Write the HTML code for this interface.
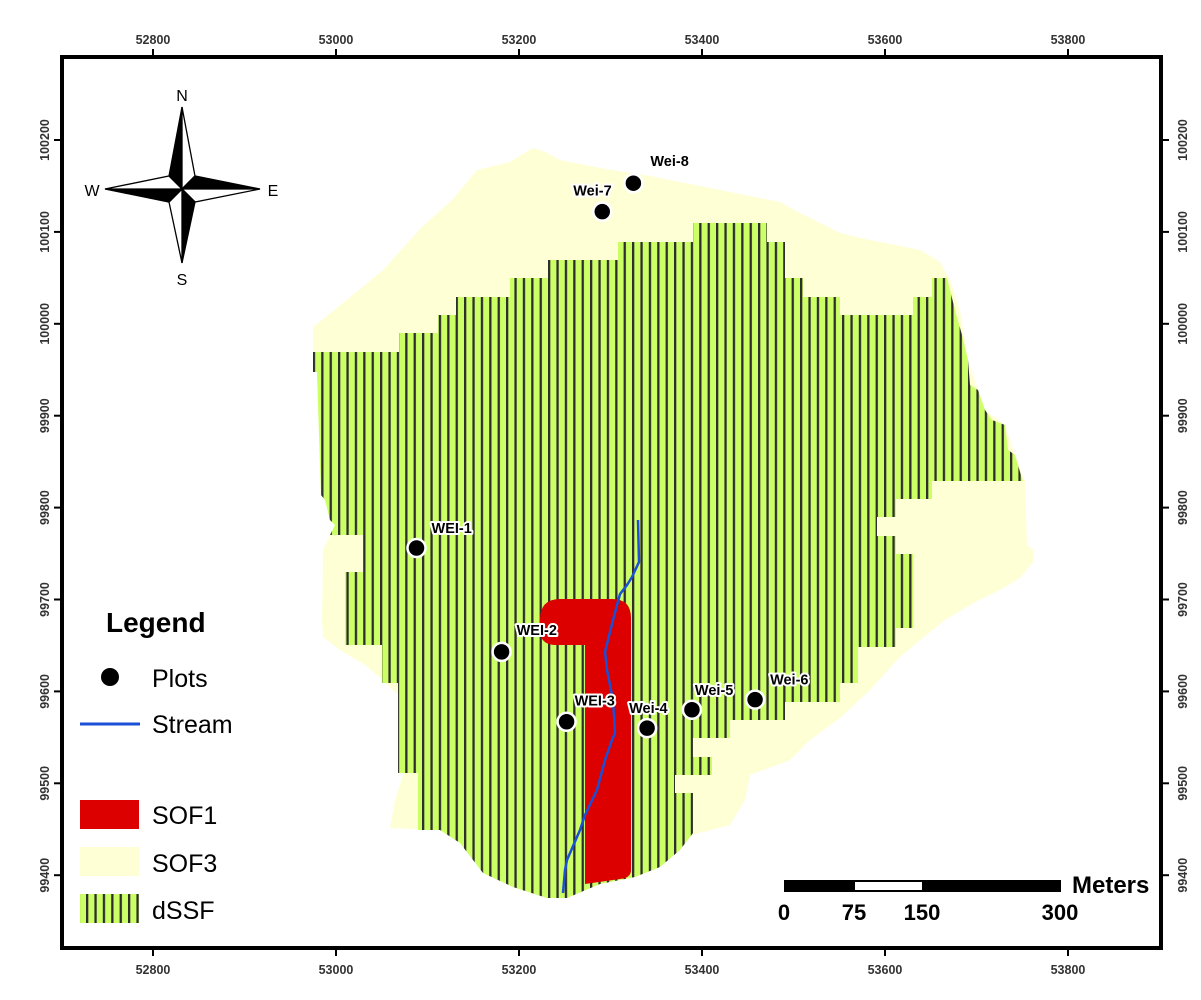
<!DOCTYPE html>
<html><head><meta charset="utf-8"><style>
html,body{margin:0;padding:0;background:#fff;}
svg{display:block;font-family:"Liberation Sans",sans-serif;}
</style></head><body>
<svg id="map" width="1201" height="1000" viewBox="0 0 1201 1000" xmlns="http://www.w3.org/2000/svg">
<defs>
<pattern id="hatch" patternUnits="userSpaceOnUse" width="8.4" height="20" x="2">
<rect width="8.4" height="20" fill="#ccff66"/>
<rect x="0" y="0" width="2.3" height="20" fill="#2e2e2e"/>
</pattern>
</defs>
<rect width="1201" height="1000" fill="#fff"/>

<path fill="#ffffd6" d="M533,148 L545,152 L560,160 L600,168 L650,176 L700,186 L760,198 L780,202 L800,213 L840,233 L870,240 L920,250 L940,262 L950,280 L960,310 L968,360 L985,410 L1005,425 L1015,455 L1025,481 L1027,545 L1034,550 L1033,562 L1020,578 L1000,590 L975,602 L945,620 L920,640 L900,657 L870,690 L840,718 L810,740 L790,760 L750,775 L745,800 L730,825 L692,835 L660,867 L635,877 L600,884 L567,898 L547,898 L513,887 L483,873 L460,843 L440,830 L390,828 L395,800 L403,775 L403,700 L383,680 L365,665 L340,650 L323,637 L322,620 L323,550 L330,535 L335,525 L330,520 L325,500 L321,495 L317,372 L313,372 L313,327 L343,303 L383,270 L422,227 L452,200 L477,170 L510,162 Z"/>

<path fill="url(#hatch)" d="M313,352 L399,352 L399,333 L438,333 L438,315 L456,315 L456,297 L510,297 L510,278 L548,278 L548,260 L618,260 L618,242 L693,242 L693,223 L767,223 L767,242 L785,242 L785,278 L803,278 L803,297 L840,297 L840,315 L913,315 L913,297 L932,297 L932,278 L947,278 L955,310 L962,335 L968,360 L970,385 L978,390 L985,410 L992,420 L1005,425 L1008,450 L1015,455 L1020,472 L1023,481 L932,481 L932,499 L896,499 L896,517 L877,517 L877,536 L896,536 L896,554 L913,554 L913,628 L896,628 L896,647 L858,647 L858,683 L840,683 L840,702 L785,702 L785,720 L730,720 L730,738 L693,738 L693,757 L712,757 L712,775 L675,775 L675,793 L693,793 L693,833 L680,850 L660,867 L635,877 L600,884 L567,898 L547,898 L513,887 L483,873 L460,843 L440,830 L418,830 L418,773 L398,773 L398,683 L382,683 L382,645 L345,645 L345,572 L363,572 L363,535 L330,535 L335,525 L330,520 L325,500 L321,495 L317,372 L313,372 Z"/>

<path fill="#dd0000" d="M540,620 Q540,599 560,599 L612,599 Q631,599 631,618 L631,870 Q631,878 620,879 L585,884 L585,645 L556,645 Q540,645 540,630 Z"/>

<polyline fill="none" stroke="#1a4fd6" stroke-width="2.5" stroke-linejoin="round" points="638,520 639,562 632,577 627,585 620,594 613,620 605,652 607,670 613,700 615,733 612,740 605,760 597,790 585,815 580,830 567,860 565,870 563,893"/>

<g id="plots"></g>

<rect x="62" y="57" width="1099" height="891" fill="none" stroke="#000" stroke-width="4"/>
<g id="axes"></g>

<g stroke="#000" stroke-width="1.3" stroke-linejoin="miter">
<polygon points="182,107 182,189 169,176" fill="#000"/>
<polygon points="182,107 182,189 195,176" fill="#fff"/>
<polygon points="260,189 182,189 195,176" fill="#000"/>
<polygon points="260,189 182,189 195,202" fill="#fff"/>
<polygon points="182,263 182,189 195,202" fill="#000"/>
<polygon points="182,263 182,189 169,202" fill="#fff"/>
<polygon points="105,189 182,189 169,202" fill="#000"/>
<polygon points="105,189 182,189 169,176" fill="#fff"/>
</g>
<g font-size="16" text-anchor="middle" fill="#000">
<text x="182" y="101">N</text>
<text x="182" y="285">S</text>
<text x="92" y="196">W</text>
<text x="273" y="196">E</text>
</g>

<g>
<text x="106" y="632" font-size="28" font-weight="bold">Legend</text>
<circle cx="110" cy="677" r="9" fill="#000"/>
<text x="152" y="687" font-size="25">Plots</text>
<line x1="80" y1="724" x2="140" y2="724" stroke="#1a4fd6" stroke-width="3"/>
<text x="152" y="733" font-size="25">Stream</text>
<rect x="80" y="800" width="59" height="29" fill="#dd0000"/>
<text x="152" y="824" font-size="25">SOF1</text>
<rect x="80" y="847" width="59" height="29" fill="#ffffd6"/>
<text x="152" y="872" font-size="25">SOF3</text>
<rect x="80" y="894" width="59" height="29" fill="url(#hatch)"/>
<text x="152" y="919" font-size="25">dSSF</text>
</g>

<g>
<rect x="784" y="880" width="277" height="12" fill="#000"/>
<rect x="855" y="882" width="67" height="8" fill="#fff"/>
<text x="1072" y="893" font-size="24" font-weight="bold">Meters</text>
<g font-size="22" font-weight="bold" text-anchor="middle">
<text x="784" y="920">0</text><text x="854" y="920">75</text><text x="922" y="920">150</text><text x="1060" y="920">300</text>
</g>
</g>
</svg>
<script>
const xTicks = [52800, 53000, 53200, 53400, 53600, 53800];
const yTicks = [99400, 99500, 99600, 99700, 99800, 99900, 100000, 100100, 100200];
const plotNames = ["WEI-1","WEI-2","WEI-3","Wei-4","Wei-5","Wei-6","Wei-7","Wei-8"];
const plotEast = [53088, 53181, 53252, 53340, 53389, 53458, 53291, 53325];
const plotNorth = [99756, 99643, 99567, 99560, 99580, 99591, 100122, 100153];
const labelDx = [15, 15, 8, -18, 3, 15, -29, 17];
const labelDy = [-15, -17, -16, -15, -15, -15, -16, -17];

const NS = "http://www.w3.org/2000/svg";
function X(m){ return 153 + (m - 52800) * 0.915; }
function Y(m){ return 140 + (100200 - m) * 0.919; }
function mk(tag, attrs, parent){ const e = document.createElementNS(NS, tag); for (const k in attrs) e.setAttribute(k, attrs[k]); parent.appendChild(e); return e; }

const axes = document.getElementById('axes');
xTicks.forEach(v => {
  const x = X(v);
  const t1 = mk('line', {x1:x, y1:57, x2:x, y2:49, stroke:'#000', 'stroke-width':2}, axes);
  
  
  const t2 = mk('line', {x1:x, y1:948, x2:x, y2:956, stroke:'#000', 'stroke-width':2}, axes);
  
  
  const l1 = mk('text', {x:x, y:44, 'font-size':12.5, 'font-weight':'bold', 'text-anchor':'middle', fill:'#333'}, axes);
  l1.textContent = v;
  
  
  const l2 = mk('text', {x:x, y:974, 'font-size':12.5, 'font-weight':'bold', 'text-anchor':'middle', fill:'#333'}, axes);
  l2.textContent = v;
  
  
});
yTicks.forEach(v => {
  const y = Y(v);
  const t1 = mk('line', {x1:62, y1:y, x2:54, y2:y, stroke:'#000', 'stroke-width':2}, axes);
  
  
  const t2 = mk('line', {x1:1161, y1:y, x2:1169, y2:y, stroke:'#000', 'stroke-width':2}, axes);
  
  
  const l1 = mk('text', {x:0, y:0, 'font-size':12.5, 'font-weight':'bold', 'text-anchor':'middle', fill:'#333', transform:`translate(49,${y}) rotate(-90)`}, axes);
  l1.textContent = v;
  
  
  const l2 = mk('text', {x:0, y:0, 'font-size':12.5, 'font-weight':'bold', 'text-anchor':'middle', fill:'#333', transform:`translate(1187,${y}) rotate(-90)`}, axes);
  l2.textContent = v;
  
  
});

const plots = document.getElementById('plots');
plotNames.forEach((n, i) => {
  const cx = X(plotEast[i]), cy = Y(plotNorth[i]);
  const t = mk('text', {x:cx + labelDx[i], y:cy + labelDy[i], 'font-size':14.5, 'font-weight':'bold', fill:'#000', stroke:'#fff', 'stroke-width':4, 'paint-order':'stroke', 'stroke-linejoin':'round'}, plots);
  t.textContent = n;
  
  
});
plotNames.forEach((n, i) => {
  const cx = X(plotEast[i]), cy = Y(plotNorth[i]);
  const c = mk('circle', {cx:cx, cy:cy, r:9, fill:'#000', stroke:'#fff', 'stroke-width':2.5}, plots);
  
  
});
</script>
</body></html>
